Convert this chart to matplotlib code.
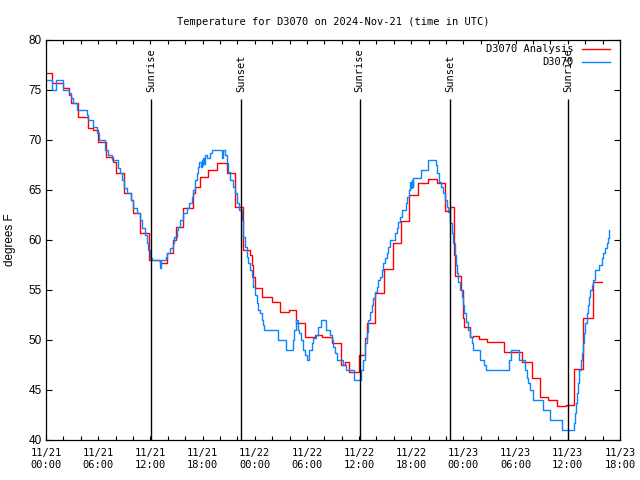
import numpy as np
import pandas as pd
import matplotlib
matplotlib.use("Agg")
import matplotlib.pyplot as plt
import matplotlib.dates as mdates

# hours after 2024-11-21 00:00 UTC, step values (degrees F)
obs_hours = [0, 0.73, 1.1, 1.92, 2.68, 2.84, 3.07, 3.53, 4.68, 4.87, 5.44, 5.83, 6.13, 6.78,
             7.17, 7.55, 8.32, 8.51, 8.7, 8.97, 9.35, 9.74, 10.04, 10.43, 10.81, 10.99, 11.38,
             11.57, 11.76, 11.96, 12.15, 13.11, 13.19, 13.8, 13.95, 14.26, 14.56, 14.72, 15.02,
             15.21, 15.41, 15.79, 16.17, 16.44, 16.75, 16.94, 17.13, 17.32, 17.44, 17.63, 17.8,
             17.9, 18.0, 18.1, 18.2, 18.3, 18.47, 18.86, 19.05, 20.2, 20.31, 20.58, 20.77, 20.97,
             21.16, 21.54, 21.73, 21.92, 22.19, 22.5, 22.69, 22.88, 23.07, 23.25, 23.45, 23.65,
             23.84, 24.03, 24.22, 24.42, 24.6, 24.8, 24.99, 25.1, 26.64, 27.6, 28.44, 28.52,
             28.75, 28.98, 29.13, 29.28, 29.51, 29.74, 29.97, 30.28, 30.55, 30.74, 31.05, 31.31,
             31.58, 32.2, 32.65, 32.85, 33.04, 33.23, 33.42, 34.19, 34.5, 35.41, 36.22, 36.41,
             36.68, 36.87, 37.06, 37.25, 37.45, 37.64, 37.83, 38.02, 38.21, 38.4, 38.6, 38.79,
             38.98, 39.17, 39.36, 39.55, 40.1, 40.32, 40.51, 40.7, 40.9, 41.39, 41.55, 41.7,
             41.85, 41.95, 42.05, 42.15, 42.24, 43.08, 43.96, 44.8, 45.0, 45.15, 45.38, 45.69,
             45.92, 46.15, 46.26, 46.45, 46.64, 46.84, 47.03, 47.14, 47.3, 47.41, 47.6, 47.79,
             47.91, 48.06, 48.29, 48.56, 48.75, 48.95, 49.14, 49.91, 50.4, 50.59, 53.28, 53.43,
             54.43, 55.12, 55.27, 55.46, 55.65, 55.96, 57.11, 57.95, 59.29, 60.75, 60.83, 60.94,
             61.02, 61.21, 61.32, 61.48, 61.59, 61.71, 61.86, 61.98, 62.17, 62.28, 62.4, 62.55,
             62.74, 62.94, 63.13, 63.63, 63.9, 64.09, 64.28, 64.47, 64.59, 64.74]
obs_temp = [76, 75, 76, 75, 74.7, 74.2, 73.7, 73, 72.5, 72, 71.3, 70.7, 70, 69,
            68.5, 68, 67.2, 66.7, 66, 65.2, 64.7, 64, 63.2, 62.7, 62, 61.2, 60.5,
            59.7, 59, 58.2, 58, 57.2, 58, 58.3, 58.7, 59.2, 59.7, 60.3, 61,
            61.3, 62, 62.7, 63.2, 63.7, 64.3, 65, 66, 66.7, 67.3, 67.8, 67.3,
            68, 67.5, 68.2, 67.6, 68.5, 68.2, 68.7, 69, 68.2, 69, 68.5, 67.7, 66.8,
            66, 65.3, 64.7, 63.7, 63, 62, 60.3, 59.3, 58.3, 57.7, 57, 56.3,
            55.3, 54.5, 53.7, 53, 52.7, 52, 51.5, 51, 50, 49, 50, 51,
            52, 51, 50.7, 50, 49, 48.5, 48, 49, 49.7, 50.2, 50.5, 51.3,
            52, 51, 50.5, 50, 49.3, 48.7, 48, 47.5, 47, 46, 47, 48,
            49.7, 50.8, 52, 52.8, 53.5, 54.2, 54.8, 55.3, 56, 56.3, 57, 57.7,
            58.2, 58.7, 59.3, 60, 60.7, 61.2, 61.8, 62.3, 63, 63.7, 64.3, 65,
            65.8, 65.2, 66, 65.3, 66.2, 67, 68, 67.5, 66.7, 65.8, 65.3, 64.7,
            64, 63.3, 62.8, 61.7, 60.7, 59.7, 58.5, 57.5, 56.7, 55.8, 55, 54.3,
            53.5, 52.7, 51.8, 51, 50.3, 49.7, 49, 48, 47.5, 47, 48, 49,
            48, 47, 46.2, 45.7, 45, 44, 43, 42, 41, 41.7, 42.7, 43.7,
            44.7, 45.7, 47, 48, 48.7, 49.7, 50.7, 51.7, 52.7, 53.5, 54.3, 55,
            55.5, 56, 57, 57.5, 58.2, 58.7, 59.2, 59.7, 60.2, 61]

ana_hours = [0, 0.65, 1.92, 2.68, 2.9, 3.72, 4.87, 5.44, 5.94, 6.9, 7.74, 8.05, 8.97, 9.74,
             9.97, 10.81, 11.88, 13.11, 13.87, 14.65, 15.0, 15.79, 16.86, 17.13, 17.71, 18.67,
             19.63, 20.85, 21.77, 22.69, 23.45, 23.65, 23.84, 24.03, 24.88, 25.95, 26.9, 27.98,
             28.75, 29.78, 30.93, 31.7, 32.92, 33.92, 34.38, 34.88, 35.95, 36.68, 36.87, 37.83,
             38.87, 39.94, 40.79, 41.78, 42.82, 43.96, 45.0, 45.84, 45.92, 46.45, 46.95, 47.05,
             47.7, 47.91, 48.06, 48.75, 49.14, 49.83, 50.74, 52.7, 54.69, 55.84, 56.8, 57.76,
             58.79, 59.79, 60.75, 61.78, 62.93, 63.9]
ana_temp = [76.7, 75.7, 75.2, 74.5, 73.7, 72.3, 71.2, 71.0, 69.8, 68.3, 67.8, 66.7, 64.7, 64.0,
            62.7, 60.7, 58.0, 57.7, 58.7, 60.0, 61.3, 63.2, 64.7, 65.3, 66.3, 67.0,
            67.7, 66.7, 63.3, 59.0, 58.5, 57.5, 56.3, 55.2, 54.3, 53.8, 52.8, 53.0,
            51.7, 50.3, 50.5, 50.3, 49.7, 47.5, 47.8, 46.8, 48.5, 50.2, 51.7, 54.7,
            57.1, 59.7, 61.9, 64.5, 65.7, 66.1, 65.7, 64.5, 62.9, 63.3, 58.5, 56.4,
            55.0, 52.2, 51.3, 50.3, 50.4, 50.1, 49.8, 48.8, 47.8, 46.2, 44.3, 44.0,
            43.4, 43.5, 47.1, 52.2, 55.8, 55.8]

sun_hours = [12.05, 22.42, 36.05, 46.45, 60.02]
sun_names = ["Sunrise", "Sunset", "Sunrise", "Sunset", "Sunrise"]

base = pd.Timestamp("2024-11-21 00:00")


def to_time(h):
    return (base + pd.to_timedelta(np.array(h), unit="h")).to_numpy()


mono = "DejaVu Sans Mono"
sans = "Liberation Sans"

fig = plt.figure(figsize=(6.4, 4.8), dpi=100)
ax = fig.add_axes([46 / 640, 40 / 480, 574 / 640, 400 / 480])

ax.plot(to_time(ana_hours), ana_temp, drawstyle="steps-post", color="#ff0000", lw=1.0,
        label="D3070 Analysis")
ax.plot(to_time(obs_hours), obs_temp, drawstyle="steps-post", color="#0a84ff", lw=1.0,
        label="D3070")

for h, name in zip(sun_hours, sun_names):
    t = to_time([h])[0]
    ax.vlines(t, 40, 74.1, color="black", lw=1.0)
    ax.text(t, 74.8, name, rotation=90, ha="center", va="bottom", family=mono, fontsize=7.5)

ax.set_xlim(to_time([0])[0], to_time([66])[0])
ax.set_ylim(40, 80)
ax.set_yticks(np.arange(40, 81, 5))
ax.xaxis.set_major_locator(mdates.HourLocator(byhour=range(0, 24, 6)))
ax.xaxis.set_minor_locator(mdates.HourLocator(byhour=range(0, 24, 2)))
ax.xaxis.set_major_formatter(mdates.DateFormatter("%m/%d\n%H:%M"))

ax.tick_params(axis="both", which="both", direction="in", top=True, right=True, width=0.8)
ax.tick_params(axis="x", which="both", length=3, pad=6)
ax.tick_params(axis="y", which="major", length=4, pad=3)
for lab in ax.get_xticklabels():
    lab.set_family(mono)
    lab.set_fontsize(7.5)
for lab in ax.get_yticklabels():
    lab.set_family(sans)
    lab.set_fontsize(8.5)
for sp in ax.spines.values():
    sp.set_linewidth(0.9)

ax.set_ylabel("degrees F", family=sans, fontsize=8.5)
ax.yaxis.set_label_coords(-0.052, 0.5)
ax.set_title("Temperature for D3070 on 2024-Nov-21 (time in UTC)", family=mono,
             fontsize=7.5, pad=11)

leg = ax.legend(loc="upper right", bbox_to_anchor=(0.9895, 1.0), frameon=False,
                markerfirst=False, handlelength=2.7, handletextpad=0.8, labelspacing=0.3,
                borderaxespad=0.0, prop={"family": mono, "size": 7.5})

fig.savefig("out.png", dpi=100)
